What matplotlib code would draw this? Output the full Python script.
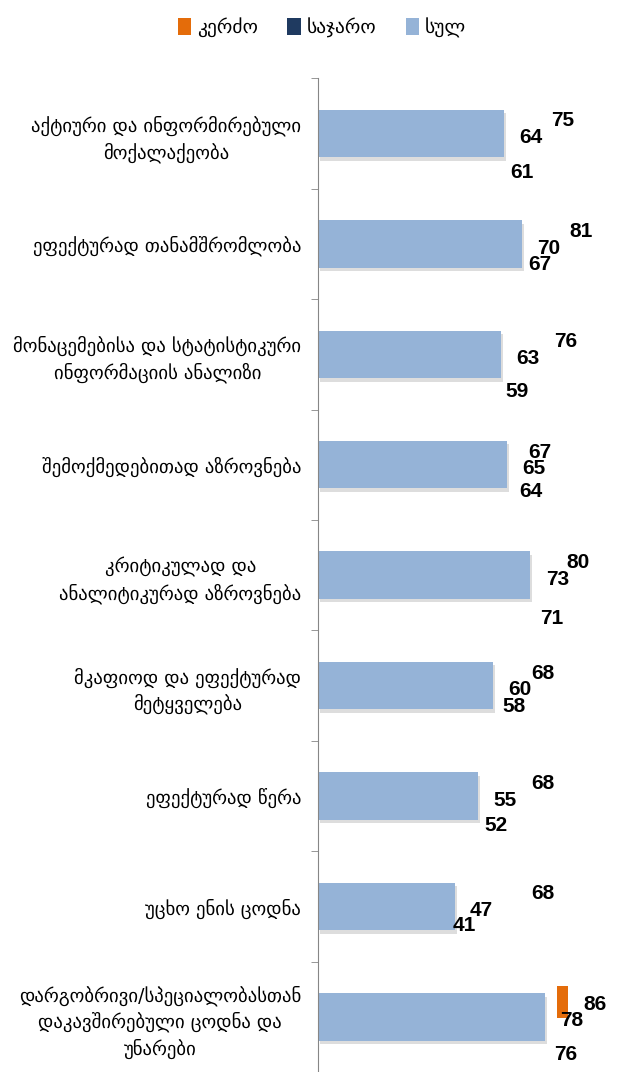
import matplotlib.pyplot as plt
import matplotlib.patheffects as pe
from matplotlib.patches import Patch
import numpy as np

categories = [
    "აქტიური და ინფორმირებული\nმოქალაქეობა",
    "ეფექტურად თანამშრომლობა",
    "მონაცემებისა და სტატისტიკური\nინფორმაციის ანალიზი",
    "შემოქმედებითად აზროვნება",
    "კრიტიკულად და\nანალიტიკურად აზროვნება",
    "მკაფიოდ და ეფექტურად\nმეტყველება",
    "ეფექტურად წერა",
    "უცხო ენის ცოდნა",
    "დარგობრივი/სპეციალობასთან\nდაკავშირებული ცოდნა და\nუნარები",
]
kerdzo = [75, 81, 76, 67, 80, 68, 68, 68, 86]
sajaro = [61, 67, 59, 64, 71, 58, 52, 41, 76]
sul = [64, 70, 63, 65, 73, 60, 55, 47, 78]

series_names = ["კერძო", "საჯარო", "სულ"]
colors = {"კერძო": "#E46C0A", "საჯარო": "#1F3A60", "სულ": "#95B3D7"}

# how far below the bar centre each "საჯარო" label sits (points)
low_dy = [28, 15, 27, 19, 31, 15, 21, 14, 27]

plt.rcParams['font.family'] = ['DejaVu Sans']

fig = plt.figure(figsize=(6.19, 10.72), dpi=100)
ax = fig.add_axes([0.5137, 0.0, 0.47, 0.927])

y = np.arange(len(categories))
shadow = [pe.SimplePatchShadow(offset=(1.5, -2.5), shadow_rgbFace='#909090', alpha=0.3), pe.Normal()]
bars = ax.barh(y, sul, height=0.43, color=colors["სულ"])
for b in bars:
    b.set_path_effects(shadow)

# only the tip of the last private-sector bar shows
tip = ax.barh(y[-1] - 0.135, 4, left=kerdzo[-1] - 4, height=0.29, color=colors["კერძო"])

lbl = dict(fontsize=15, fontweight='bold', family=['Liberation Sans Narrow', 'Liberation Sans', 'DejaVu Sans'],
           ha='left', va='center', textcoords='offset points')
for i in range(len(categories)):
    ax.annotate(str(kerdzo[i]), xy=(kerdzo[i], y[i]), xytext=(11, 9), **lbl)
    ax.annotate(str(sul[i]), xy=(sul[i], y[i]), xytext=(11, -3), **lbl)
    ax.annotate(str(sajaro[i]), xy=(sajaro[i], y[i]), xytext=(11, -low_dy[i]), **lbl)

ax.set_xlim(0, 100)
ax.set_ylim(len(categories) - 0.5, -0.5)
ax.set_xticks([])
ax.set_yticks(y)
ax.set_yticklabels(categories, fontsize=13.5, linespacing=1.4)
for t in ax.get_yticklabels():
    t.set_multialignment('center')
ax.set_yticks(np.arange(-0.5, len(categories), 1), minor=True)
ax.tick_params(axis='y', which='major', length=0, pad=12)
ax.tick_params(axis='y', which='minor', length=5, color='#868686')
for s in ['top', 'right', 'bottom']:
    ax.spines[s].set_visible(False)
ax.spines['left'].set_color('#868686')

handles = [Patch(facecolor=colors[n], label=n) for n in series_names]
fig.legend(handles=handles, loc='upper center', bbox_to_anchor=(0.52, 1.0), ncol=3, frameon=False,
           fontsize=14, handlelength=0.7, handleheight=0.9, handletextpad=0.3, columnspacing=1.5)

fig.savefig("out.png", dpi=100)
